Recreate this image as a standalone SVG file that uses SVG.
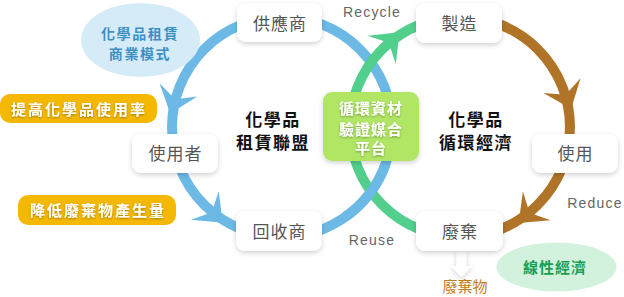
<svg xmlns="http://www.w3.org/2000/svg" xmlns:xlink="http://www.w3.org/1999/xlink" width="624" height="297" viewBox="0 0 624 297">
<defs>
<filter id="sh" x="-20%" y="-20%" width="140%" height="150%"><feDropShadow dx="0" dy="2" stdDeviation="2.5" flood-color="#000" flood-opacity="0.18"/></filter>
<filter id="tsh" x="-10%" y="-20%" width="120%" height="150%"><feDropShadow dx="0" dy="1" stdDeviation="1" flood-color="#000" flood-opacity="0.35"/></filter>
<path id="dart" d="M24,0 L-1,-20 L9,0 L-1,20 Z"/>
</defs>
<style>
.cjk{font-family:"Noto Sans CJK TC","Noto Sans CJK SC",sans-serif}
.lat{font-family:"Liberation Sans","Noto Sans CJK TC",sans-serif}
.box{fill:#fff;filter:url(#sh)}
.bt{font-size:17px;fill:#555;text-anchor:middle;letter-spacing:1px}
.arc{fill:none;stroke-width:10}
.blue{stroke:#6cb9e6}.green{stroke:#52cf8c}.brown{stroke:#b07428}
.lbl{font-size:14px;fill:#666;letter-spacing:1.2px;text-anchor:middle}
.big{font-size:17px;font-weight:bold;fill:#111;text-anchor:middle;letter-spacing:1.5px}
.wt{fill:#fff;font-weight:bold;text-anchor:middle;filter:url(#tsh)}
</style>
<rect width="624" height="297" fill="#fff"/>

<g id="connectors">
<circle class="arc blue" cx="282" cy="127" r="110"/>
<path class="arc green" d="M460,237 A110,110 0 0 1 460,17"/>
<path class="arc brown" d="M460,17 A110,110 0 0 1 460,237"/>
<path class="arc blue" d="M385.4,164.6 A110,110 0 0 1 345.1,217.1"/>
<use xlink:href="#dart" fill="#6cb9e6" transform="translate(178.1,90.8) rotate(109.2)"/>
<use xlink:href="#dart" fill="#6cb9e6" transform="translate(205.5,206) rotate(44.1)"/>
<use xlink:href="#dart" fill="#52cf8c" transform="translate(382.4,49.1) rotate(-44.9)"/>
<use xlink:href="#dart" fill="#b07428" transform="translate(562.3,86.5) rotate(68.4)"/>
<use xlink:href="#dart" fill="#b07428" transform="translate(536,206.5) rotate(136.3)"/>
<polygon points="456.5,250 466.5,250 466.5,266 472,266 461.5,277 451,266 456.5,266" fill="#fff" filter="url(#sh)"/>
</g>

<g id="n-supplier"><rect class="box" x="237" y="3" width="85" height="39" rx="9"/><text class="cjk bt" x="280" y="30">供應商</text></g>
<g id="n-user"><rect class="box" x="132" y="134" width="86" height="39" rx="9"/><text class="cjk bt" x="175.5" y="160">使用者</text></g>
<g id="n-recycler"><rect class="box" x="236" y="211" width="86" height="40" rx="9"/><text class="cjk bt" x="279.5" y="238">回收商</text></g>
<g id="n-make"><rect class="box" x="416" y="3" width="86" height="40" rx="9"/><text class="cjk bt" x="459.5" y="30">製造</text></g>
<g id="n-use"><rect class="box" x="532" y="134" width="86" height="39" rx="9"/><text class="cjk bt" x="575.5" y="160">使用</text></g>
<g id="n-waste"><rect class="box" x="416" y="211" width="87" height="40" rx="9"/><text class="cjk bt" x="460" y="238">廢棄</text></g>

<g id="n-platform"><rect x="323" y="92" width="96" height="69" rx="9" fill="#b1e665" filter="url(#sh)"/>
<text class="cjk wt" font-size="15" letter-spacing="1" x="371" y="114">循環資材</text>
<text class="cjk wt" font-size="15" letter-spacing="1" x="371" y="135">驗證媒合</text>
<text class="cjk wt" font-size="15" letter-spacing="1" x="371" y="154">平台</text></g>

<g id="n-lease"><text class="cjk big" x="273" y="126">化學品</text><text class="cjk big" x="273" y="149">租賃聯盟</text></g>
<g id="n-circular"><text class="cjk big" x="476" y="126">化學品</text><text class="cjk big" x="476" y="149">循環經濟</text></g>

<g id="n-model"><ellipse cx="140.5" cy="40" rx="59.5" ry="37" fill="#d6ebf8"/>
<text class="cjk" font-size="14" letter-spacing="1.6" fill="#3a8fc4" font-weight="bold" text-anchor="middle" x="140" y="39">化學品租賃</text>
<text class="cjk" font-size="14" letter-spacing="1.6" fill="#3a8fc4" font-weight="bold" text-anchor="middle" x="140" y="59">商業模式</text></g>

<g id="n-rate"><rect x="0" y="94" width="157" height="29" rx="10" fill="#f5b800"/><text class="cjk wt" font-size="15" letter-spacing="2" x="79" y="115">提高化學品使用率</text></g>
<g id="n-reduce"><rect x="18" y="195" width="158" height="30" rx="10" fill="#f5b800"/><text class="cjk wt" font-size="15" letter-spacing="2" x="98" y="216">降低廢棄物產生量</text></g>

<g id="n-linear"><ellipse cx="556.5" cy="267" rx="60" ry="24.5" fill="#d3f2de"/><text class="cjk" font-size="15" font-weight="bold" letter-spacing="1" fill="#1a9e50" text-anchor="middle" x="555" y="273">線性經濟</text></g>

<g id="labels">
<text class="lat lbl" x="372" y="17">Recycle</text>
<text class="lat lbl" x="372" y="245">Reuse</text>
<text class="lat lbl" x="595" y="208">Reduce</text>
<text class="cjk" font-size="15" fill="#c47a26" text-anchor="middle" x="465" y="292">廢棄物</text>
</g>
</svg>
